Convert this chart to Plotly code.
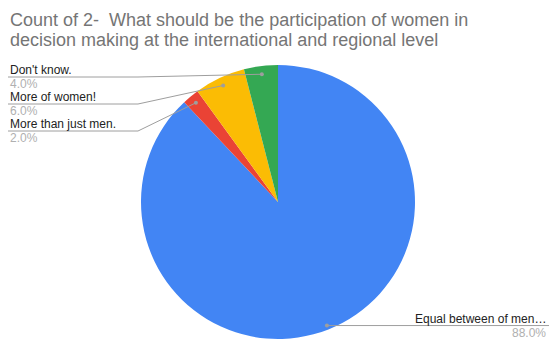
import math
import plotly.graph_objects as go

# ---- data ----
labels = ["Equal between of men…", "More than just men.", "More of women!", "Don't know."]
counts = [44, 1, 3, 2]
colors = ["#4285F4", "#EA4335", "#FBBC04", "#34A853"]
title_lines = ["Count of 2-  What should be the participation of women in",
               "decision making at the international and regional level"]

W, H = 549, 340
CX, CY, R = 278, 202, 137  # pie geometry in pixels (y from top)

def px(x):
    return x / W

def py(y):
    return 1 - y / H

fig = go.Figure(go.Pie(
    labels=labels, values=counts, sort=False, direction="clockwise", rotation=0,
    marker=dict(colors=colors, line=dict(width=0)),
    textinfo="none", hoverinfo="label+percent", showlegend=False,
    domain=dict(x=[px(CX - R), px(CX + R)], y=[py(CY + R), py(CY - R)]),
))

total = sum(counts)
shapes, annos = [], []
cum = 0
mids = []
for v in counts:
    mids.append((cum + v / 2) / total * 2 * math.pi)
    cum += v

grey = "#9E9E9E"
label_font = dict(family="Liberation Sans, Arial", size=12, color="#222222")
pct_font = dict(family="Liberation Sans, Arial", size=12, color="#B0B0B0")

# left side labels (stacked), line y positions
left_rows = {3: 77, 2: 104, 1: 131}
for i, th in enumerate(mids):
    rr = R * (0.94 if i in left_rows else 0.97)
    dx = CX + rr * math.sin(th)
    dy = CY - rr * math.cos(th)
    pct = f"{counts[i] / total * 100:.1f}%"
    if i in left_rows:
        ly = left_rows[i]
        shapes.append(dict(type="line", xref="paper", yref="paper",
                           x0=px(8), y0=py(ly), x1=px(138), y1=py(ly),
                           line=dict(color=grey, width=1)))
        shapes.append(dict(type="line", xref="paper", yref="paper",
                           x0=px(138), y0=py(ly), x1=px(dx), y1=py(dy),
                           line=dict(color=grey, width=1)))
        annos.append(dict(x=px(8), y=py(ly - 7), xref="paper", yref="paper",
                          text=labels[i], showarrow=False, xanchor="left",
                          yanchor="middle", font=label_font))
        annos.append(dict(x=px(8), y=py(ly + 7), xref="paper", yref="paper",
                          text=pct, showarrow=False, xanchor="left",
                          yanchor="middle", font=pct_font))
    else:
        ly = dy
        shapes.append(dict(type="line", xref="paper", yref="paper",
                           x0=px(dx), y0=py(ly), x1=1, y1=py(ly),
                           line=dict(color=grey, width=1)))
        annos.append(dict(x=px(548), y=py(ly - 7), xref="paper", yref="paper",
                          text=labels[i], showarrow=False, xanchor="right",
                          yanchor="middle", font=label_font))
        annos.append(dict(x=px(548), y=py(ly + 7), xref="paper", yref="paper",
                          text=pct, showarrow=False, xanchor="right",
                          yanchor="middle", font=pct_font))
    shapes.append(dict(type="circle", xref="paper", yref="paper",
                       x0=px(dx - 2), x1=px(dx + 2), y0=py(dy - 2), y1=py(dy + 2),
                       fillcolor=grey, line=dict(width=0)))

title_font = dict(family="Liberation Sans, Arial", size=18, color="#757575")
for k, t in enumerate(title_lines):
    annos.append(dict(x=px(8), y=py(20 + 20 * k), xref="paper", yref="paper",
                      text=t, showarrow=False, xanchor="left", yanchor="middle",
                      font=title_font))

fig.update_layout(
    width=W, height=H, margin=dict(l=0, r=0, t=0, b=0),
    paper_bgcolor="white", plot_bgcolor="white",
    shapes=shapes, annotations=annos,
)
fig.write_html("out.html", config={"displayModeBar": False},
               post_script="document.body.style.margin='0';document.body.style.overflow='hidden';")
